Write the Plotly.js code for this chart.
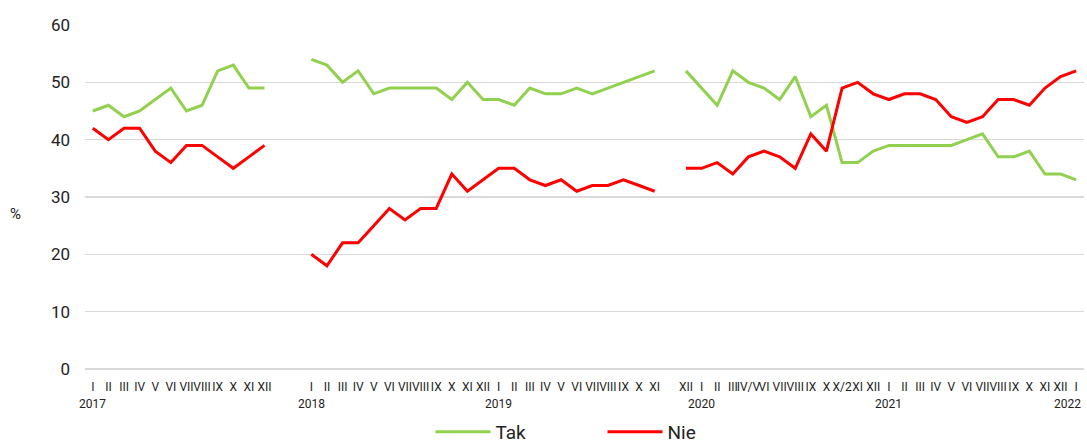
<!DOCTYPE html>
<html>
<head>
<meta charset="utf-8">
<script src="https://cdn.plot.ly/plotly-3.0.1.min.js"></script>
<style>html,body{margin:0;padding:0;background:#fff;}#chart{width:1087px;height:444px;}</style>
</head>
<body>
<div id="chart"></div>
<script>
// ---- data ----
const months2017 = ["I","II","III","IV","V","VI","VII","VIII","IX","X","XI","XII"];
const tak2017 = [45,46,44,45,47,49,45,46,52,53,49,49];
const nie2017 = [42,40,42,42,38,36,39,39,37,35,37,39];

const months2018 = ["I","II","III","IV","V","VI","VII","VIII","IX","X","XI","XII"];
const tak2018 = [54,53,50,52,48,49,49,49,49,47,50,47];
const nie2018 = [20,18,22,22,25,28,26,28,28,34,31,33];

const months2019 = ["I","II","III","IV","V","VI","VII","VIII","IX","X","XI"];
const tak2019 = [47,46,49,48,48,49,48,49,50,51,52];
const nie2019 = [35,35,33,32,33,31,32,32,33,32,31];

const months2020 = ["XII","I","II","III","IV/V","VI","VII","VIII","IX","X","X/2","XI","XII"];
const tak2020 = [52,49,46,52,50,49,47,51,44,46,36,36,38];
const nie2020 = [35,35,36,34,37,38,37,35,41,38,49,50,48];

const months2021 = ["I","II","III","IV","V","VI","VII","VIII","IX","X","XI","XII"];
const tak2021 = [39,39,39,39,39,40,41,37,37,38,34,34];
const nie2021 = [47,48,48,47,44,43,44,47,47,46,49,51];

const months2022 = ["I"];
const tak2022 = [33];
const nie2022 = [52];

const yearLabels = ["2017","2018","2019","2020","2021","2022"];

// ---- assemble category axis (blank categories make the gaps) ----
const segments = [
  {m: months2017, t: tak2017, n: nie2017, yearAt: 0, gapAfter: 2},
  {m: months2018, t: tak2018, n: nie2018, yearAt: 0, gapAfter: 0},
  {m: months2019, t: tak2019, n: nie2019, yearAt: 0, gapAfter: 1},
  {m: months2020, t: tak2020, n: nie2020, yearAt: 1, gapAfter: 0},
  {m: months2021, t: tak2021, n: nie2021, yearAt: 0, gapAfter: 0},
  {m: months2022, t: tak2022, n: nie2022, yearAt: 0, gapAfter: 0}
];
const labels = [], tak = [], nie = [], yearPos = [];
segments.forEach(s => {
  yearPos.push(labels.length + s.yearAt);
  s.m.forEach((lab, i) => { labels.push(lab); tak.push(s.t[i]); nie.push(s.n[i]); });
  for (let g = 0; g < s.gapAfter; g++) { labels.push(""); tak.push(null); nie.push(null); }
});
const xs = labels.map((_, i) => i);

const FONT = "Roboto, 'Noto Sans', Arial, sans-serif";

const traces = [
  {x: xs, y: tak, name: "Tak", type: "scatter", mode: "lines",
   line: {color: "#92D050", width: 3}, connectgaps: false, hoverinfo: "skip"},
  {x: xs, y: nie, name: "Nie", type: "scatter", mode: "lines",
   line: {color: "#FF0000", width: 3}, connectgaps: false, hoverinfo: "skip"}
];

const annotations = yearLabels.map((y, k) => ({
  text: y, xref: "x", yref: "paper", x: yearPos[k], y: 0,
  yanchor: "top", xanchor: "center", yshift: -26,
  xshift: k === yearLabels.length - 1 ? -9 : 0,
  showarrow: false, font: {family: FONT, size: 12, color: "#222"}
}));
annotations.push({
  text: "%", xref: "paper", yref: "paper", x: -0.07, y: 0.45,
  xanchor: "center", yanchor: "middle", showarrow: false,
  font: {family: FONT, size: 15, color: "#222"}
});

const layout = {
  width: 1087, height: 444,
  margin: {l: 85, r: 3, t: 25, b: 75, autoexpand: false},
  paper_bgcolor: "#fff", plot_bgcolor: "#fff",
  font: {family: FONT, color: "#222"},
  showlegend: true,
  legend: {orientation: "h", xref: "paper", x: 0.518, xanchor: "center",
           yref: "container", y: 0.027, yanchor: "middle",
           font: {family: FONT, size: 19, color: "#222"}, itemwidth: 55, entrywidth: 102},
  xaxis: {range: [-0.5, labels.length - 0.5], tickmode: "array", tickvals: xs, ticktext: labels,
          tickangle: 0, showgrid: false, zeroline: false, showline: false, ticks: "", automargin: false,
          tickfont: {family: FONT, size: 12, color: "#222"}, ticklabelstandoff: 9, fixedrange: true},
  yaxis: {range: [0, 60], tickvals: [0,10,20,30,40,50,60], showgrid: true, gridcolor: "#D9D9D9",
          gridwidth: 1.5, zeroline: true, zerolinecolor: "#D9D9D9", zerolinewidth: 1.5, automargin: false,
          showline: false, ticks: "", tickfont: {family: FONT, size: 17, color: "#222"},
          ticklabelstandoff: 14, fixedrange: true},
  annotations: annotations
};

Plotly.newPlot("chart", traces, layout, {staticPlot: true, displayModeBar: false});
</script>
</body>
</html>
